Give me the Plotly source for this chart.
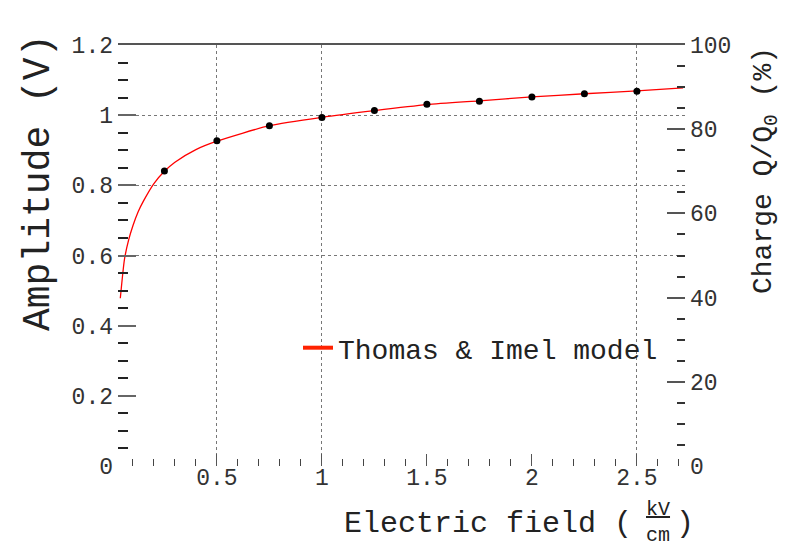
import plotly.graph_objects as go

# ---- data ----
field_kv_cm = [0.25, 0.5, 0.75, 1.0, 1.25, 1.5, 1.75, 2.0, 2.25, 2.5]
amplitude_v = [0.841, 0.927, 0.970, 0.993, 1.013, 1.031, 1.040, 1.052, 1.061, 1.068]

model_field = [0.04, 0.06, 0.08, 0.10, 0.125, 0.15, 0.20, 0.25, 0.30, 0.40, 0.50,
               0.75, 1.0, 1.25, 1.5, 1.75, 2.0, 2.25, 2.5, 2.72]
model_amp = [0.478, 0.590, 0.645, 0.685, 0.725, 0.755, 0.805, 0.840, 0.866, 0.902, 0.926,
             0.970, 0.994, 1.013, 1.030, 1.041, 1.052, 1.061, 1.069, 1.078]

x_range = [0.029, 2.729]
y_range = [0, 1.2]
charge_range = [0, 100]
x_grid_vals = [0.5, 1.0, 2.5]
y_grid_vals = [0.6, 0.8, 1.0]
legend_name = "Thomas & Imel model"

MONO = "Liberation Mono, Courier New, monospace"
TXT = "#222222"

fig = go.Figure()
fig.add_trace(go.Scatter(x=model_field, y=model_amp, mode="lines",
                         line=dict(color="#ff0000", width=1.3, shape="spline", smoothing=0.6),
                         showlegend=False, hoverinfo="skip"))
fig.add_trace(go.Scatter(x=field_kv_cm, y=amplitude_v, mode="markers",
                         marker=dict(color="black", size=7), showlegend=False))
# legend entry (thick red key, as in the reference)
fig.add_trace(go.Scatter(x=[None], y=[None], mode="lines", name=legend_name,
                         line=dict(color="#ff2200", width=4), showlegend=True))

W, H = 787, 547
L, R, T, B = 118, 102, 45, 81
pw, ph = W - L - R, H - T - B
def px(xp):
    return (xp - L) / pw
def py(yp):
    return (H - B - yp) / ph

fig.update_layout(
    width=W, height=H,
    margin=dict(l=L, r=R, t=T, b=B),
    paper_bgcolor="white", plot_bgcolor="white",
    font=dict(family=MONO, color=TXT),
    xaxis=dict(range=x_range, dtick=0.5, tick0=0, showgrid=False, zeroline=False,
               showline=False, ticks="inside", ticklen=12, tickcolor="#555",
               tickwidth=1, tickfont=dict(size=23, color="#333"),
               ticklabelstandoff=-5,
               minor=dict(dtick=0.1, tick0=0, ticks="inside", ticklen=7,
                          tickcolor="#444", showgrid=False)),
    yaxis=dict(range=y_range, dtick=0.2, tick0=0, showgrid=False, zeroline=False,
               showline=False, ticks="inside", ticklen=18, tickcolor="#666",
               tickwidth=1.5, tickfont=dict(size=23, color="#333"),
               ticklabelstandoff=4,
               minor=dict(dtick=0.05, tick0=0, ticks="inside", ticklen=10,
                          tickcolor="#222", showgrid=False)),
    xaxis2=dict(range=x_range, overlaying="x", side="top", anchor="y",
                tickvals=x_grid_vals, showticklabels=False, ticks="",
                showgrid=True, gridcolor="#777", griddash="dot", gridwidth=1,
                showline=True, linecolor="#555", linewidth=1.5, zeroline=False),
    yaxis2=dict(range=charge_range, overlaying="y", side="right", anchor="x",
                dtick=20, tick0=0, showgrid=False, zeroline=False, showline=False,
                ticks="inside", ticklen=18, tickcolor="#555", tickwidth=1.5,
                tickfont=dict(size=23, color="#333"), ticklabelstandoff=4,
                minor=dict(dtick=5, tick0=0, ticks="inside", ticklen=8,
                           tickcolor="#333", showgrid=False)),
    yaxis3=dict(range=y_range, overlaying="y", side="left", anchor="x",
                tickvals=y_grid_vals, showticklabels=False, ticks="",
                showgrid=True, gridcolor="#777", griddash="dot", gridwidth=1,
                zeroline=False, showline=False),
    legend=dict(x=px(298), y=py(348), xanchor="left", yanchor="middle",
                bgcolor="rgba(0,0,0,0)", borderwidth=0,
                font=dict(size=28, family=MONO, color=TXT)),
    annotations=[
        dict(text="Amplitude (V)", textangle=-90, xref="paper", yref="paper",
             x=px(38), y=py(183), xanchor="center", yanchor="middle",
             showarrow=False, font=dict(size=38, family=MONO, color=TXT)),
        dict(text="Charge Q/Q<sub>0</sub> (%)", textangle=-90, xref="paper", yref="paper",
             x=px(765), y=py(171), xanchor="center", yanchor="middle",
             showarrow=False, font=dict(size=28, family=MONO, color=TXT)),
        dict(text="Electric field (", xref="paper", yref="paper",
             x=px(634), y=py(524), xanchor="right", yanchor="middle",
             showarrow=False, font=dict(size=30, family=MONO, color=TXT)),
        dict(text="<u>kV</u><br>cm", xref="paper", yref="paper",
             x=px(658), y=py(522), xanchor="center", yanchor="middle",
             showarrow=False, borderpad=0,
             font=dict(size=20, family=MONO, color=TXT)),
        dict(text=")", xref="paper", yref="paper",
             x=px(674), y=py(524), xanchor="left", yanchor="middle",
             showarrow=False, font=dict(size=30, family=MONO, color=TXT)),
    ],
)

# empty-data helpers so that the overlay axes are rendered
fig.add_trace(go.Scatter(x=[None], y=[None], xaxis="x2", yaxis="y", showlegend=False,
                         hoverinfo="skip"))
fig.add_trace(go.Scatter(x=[None], y=[None], xaxis="x", yaxis="y2", showlegend=False,
                         hoverinfo="skip"))
fig.add_trace(go.Scatter(x=[None], y=[None], xaxis="x", yaxis="y3", showlegend=False,
                         hoverinfo="skip"))

fig.write_html("out.html")
